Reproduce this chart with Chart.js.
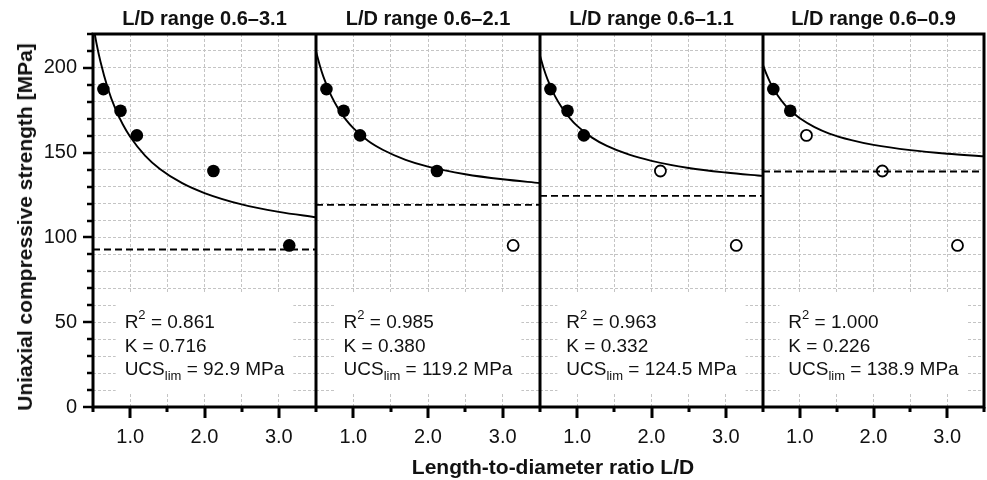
<!DOCTYPE html>
<html><head><meta charset="utf-8">
<script src="https://cdn.jsdelivr.net/npm/chart.js@4.4.1/dist/chart.umd.min.js"></script>
<style>
html,body{margin:0;padding:0;background:#fff;}
#wrap{position:relative;width:987px;height:480px;overflow:hidden;background:#fff;font-family:"Liberation Sans",Arial,sans-serif;color:#111;}
canvas{position:absolute;top:0;}
.ytitle{position:absolute;left:25px;top:227px;transform:translate(-50%,-50%) rotate(-90deg);font-weight:bold;font-size:21px;white-space:nowrap;}
.xtitle{position:absolute;left:553px;top:467px;transform:translate(-50%,-50%);font-weight:bold;font-size:21px;white-space:nowrap;}
</style></head>
<body><div id="wrap">
<canvas id="c0" width="316" height="480" style="left:0px"></canvas>
<canvas id="c1" width="224" height="480" style="left:316px"></canvas>
<canvas id="c2" width="223" height="480" style="left:540px"></canvas>
<canvas id="c3" width="224" height="480" style="left:763px"></canvas>
<div class="ytitle">Uniaxial compressive strength [MPa]</div>
<div class="xtitle">Length-to-diameter ratio L/D</div>
</div>
<script>
// ---- data ----
const panelTitles = ['L/D range 0.6–3.1', 'L/D range 0.6–2.1', 'L/D range 0.6–1.1', 'L/D range 0.6–0.9'];
const ldRatio = [0.64, 0.87, 1.09, 2.12, 3.14];
const ucsMeasured = [187.5, 174.7, 160.2, 139.2, 95.3];
const pointsInFit = [5, 4, 3, 2];
const rSquared = ['0.861', '0.985', '0.963', '1.000'];
const kValues = ['0.716', '0.380', '0.332', '0.226'];
const ucsLimit = [92.9, 119.2, 124.5, 138.9];
const ucsLimitText = ['92.9', '119.2', '124.5', '138.9'];
const curveLD = [0.5, 0.55, 0.6, 0.7, 0.8, 0.9, 1.0, 1.2, 1.4, 1.7, 2.0, 2.5, 3.0, 3.5];
const curve1 = [225.9, 213.8, 203.8, 187.9, 176.0, 166.8, 159.4, 148.3, 140.4, 132.0, 126.2, 119.5, 115.1, 111.9];
const curve2 = [209.8, 201.6, 194.7, 183.9, 175.8, 169.5, 164.5, 156.9, 151.6, 145.8, 141.8, 137.3, 134.3, 132.1];
const curve3 = [207.2, 199.6, 193.4, 183.5, 176.2, 170.4, 165.8, 158.9, 154.0, 148.8, 145.2, 141.0, 138.3, 136.3];
const curve4 = [201.7, 196.0, 191.2, 183.7, 178.1, 173.8, 170.3, 165.1, 161.3, 157.4, 154.6, 151.5, 149.4, 147.9];
const curves = [curve1, curve2, curve3, curve4];
const xRange = [0.5, 3.5];
const yRange = [0, 220];

const FONT = '"Liberation Sans", Arial, sans-serif';
const TXT = '#111';

const panelPlugin = {
  id: 'panelDeco',
  beforeDatasetsDraw(chart) {
    const i = chart.options.plugins.panelDeco.index;
    const ctx = chart.ctx, a = chart.chartArea;
    ctx.save();
    const big = '19px ' + FONT, small = '13px ' + FONT;
    const seg = (parts) => parts.map(p => { ctx.font = p[1] ? small : big; return ctx.measureText(p[0]).width; });
    const lines = [
      [['R', 0], ['2', 1, -7], [' = ' + rSquared[i], 0]],
      [['K = ' + kValues[i], 0]],
      [['UCS', 0], ['lim', 1, 6], [' = ' + ucsLimitText[i] + ' MPa', 0]]
    ];
    const widths = lines.map(l => seg(l).reduce((s, w) => s + w, 0));
    const maxW = Math.max(...widths);
    const cx = (a.left + a.right) / 2;
    const x0 = cx - maxW / 2;
    ctx.fillStyle = '#fff';
    ctx.fillRect(x0 - 9, a.bottom - 113, maxW + 18, 100);
    const ys = [a.bottom - 84.5, a.bottom - 60.5, a.bottom - 37];
    ctx.fillStyle = TXT;
    ctx.textBaseline = 'middle';
    ctx.textAlign = 'left';
    lines.forEach((l, li) => {
      let x = x0;
      const ws = seg(l);
      l.forEach((p, pi) => {
        ctx.font = p[1] ? small : big;
        ctx.fillText(p[0], x, ys[li] + (p[2] || 0));
        x += ws[pi];
      });
    });
    ctx.restore();
  },
  afterDraw(chart) {
    const i = chart.options.plugins.panelDeco.index;
    const ctx = chart.ctx, a = chart.chartArea;
    const xs = chart.scales.x, ys = chart.scales.y;
    ctx.save();
    ctx.strokeStyle = '#000';
    ctx.lineCap = 'butt';
    ctx.lineWidth = 3;
    for (let v = xRange[0]; v <= xRange[1] + 1e-9; v += 0.5) {
      const px = Math.round(xs.getPixelForValue(v));
      const len = Number.isInteger(v) ? 11 : 5;
      ctx.beginPath(); ctx.moveTo(px, a.bottom); ctx.lineTo(px, a.bottom + len); ctx.stroke();
    }
    if (i === 0) {
      ctx.lineWidth = 2.5;
      for (let v = yRange[0]; v <= yRange[1]; v += 10) {
        const py = Math.round(ys.getPixelForValue(v));
        const len = v % 50 === 0 ? 10 : 6;
        ctx.beginPath(); ctx.moveTo(a.left - len, py); ctx.lineTo(a.left, py); ctx.stroke();
      }
    }
    ctx.lineWidth = 3;
    ctx.strokeRect(a.left, a.top, a.right - a.left, a.bottom - a.top);
    ctx.fillStyle = TXT;
    ctx.font = 'bold 20px ' + FONT;
    ctx.textAlign = 'center';
    ctx.textBaseline = 'middle';
    ctx.fillText(panelTitles[i], (a.left + a.right) / 2, 19);
    ctx.restore();
  }
};

function makePanel(i) {
  const n = pointsInFit[i];
  const fitted = ldRatio.slice(0, n).map((x, k) => ({ x, y: ucsMeasured[k] }));
  const excluded = ldRatio.slice(n).map((x, k) => ({ x, y: ucsMeasured[n + k] }));
  const curve = curveLD.map((x, k) => ({ x, y: curves[i][k] }));
  const limLine = xRange.map(x => ({ x, y: ucsLimit[i] }));
  const first = i === 0;
  new Chart(document.getElementById('c' + i), {
    type: 'scatter',
    data: {
      datasets: [
        { data: limLine, showLine: true, pointRadius: 0, borderColor: '#000', borderWidth: 1.8, borderDash: [7, 4] },
        { data: curve, showLine: true, pointRadius: 0, borderColor: '#000', borderWidth: 1.9, cubicInterpolationMode: 'monotone' },
        { data: excluded, pointRadius: 5.5, borderWidth: 1.8, borderColor: '#000', backgroundColor: '#fff' },
        { data: fitted, pointRadius: 6.3, borderWidth: 0, borderColor: '#000', backgroundColor: '#000' }
      ]
    },
    options: {
      responsive: false,
      animation: false,
      events: [],
      layout: { autoPadding: false, padding: { top: 34, right: i === 3 ? 3 : 0, left: 0, bottom: 0 } },
      plugins: { legend: { display: false }, tooltip: { enabled: false }, panelDeco: { index: i } },
      scales: {
        x: {
          type: 'linear', min: xRange[0], max: xRange[1],
          afterFit: s => { s.height = 73; s.paddingLeft = 0; s.paddingRight = 0; },
          border: { display: false, dash: [3, 2] },
          grid: { color: '#c4c4c4', lineWidth: 1, drawTicks: false },
          ticks: {
            stepSize: 0.5, autoSkip: false, padding: 18, maxRotation: 0,
            color: TXT, font: { family: FONT, size: 20 },
            callback: v => Number.isInteger(v) ? v.toFixed(1) : ''
          }
        },
        y: {
          type: 'linear', min: yRange[0], max: yRange[1],
          afterFit: s => { s.width = first ? 93 : 0; s.paddingTop = 0; s.paddingBottom = 0; },
          border: { display: false, dash: [3, 2] },
          grid: { color: '#c4c4c4', lineWidth: 1, drawTicks: false },
          ticks: {
            display: first, stepSize: 10, autoSkip: false, padding: 16,
            color: TXT, font: { family: FONT, size: 20 },
            callback: v => v % 50 === 0 ? String(v) : ''
          }
        }
      }
    },
    plugins: [panelPlugin]
  });
}
[0, 1, 2, 3].forEach(makePanel);
</script>
</body></html>
